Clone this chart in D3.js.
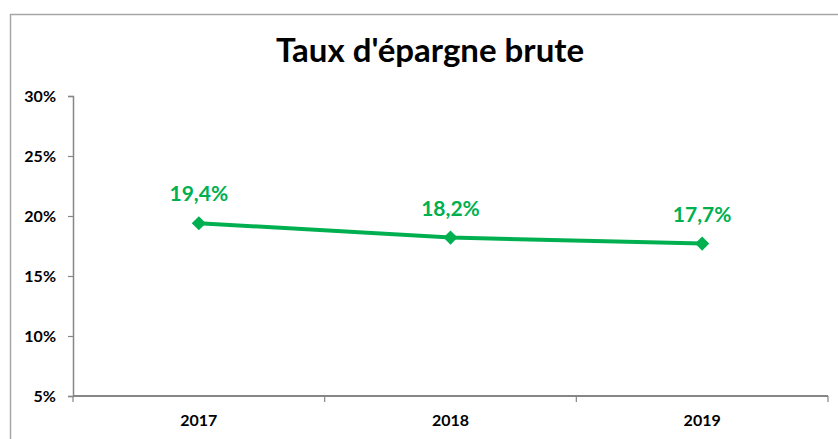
<!DOCTYPE html>
<html><head><meta charset="utf-8">
<script src="https://d3js.org/d3.v7.min.js"></script>
<style>body{margin:0;background:#fff}svg{display:block}</style>
</head><body>
<script>
const title = "Taux d'épargne brute";
const years = ["2017", "2018", "2019"];
const rates = [19.4, 18.2, 17.7];
const rateLabels = ["19,4%", "18,2%", "17,7%"];
const yTicks = [5, 10, 15, 20, 25, 30];

const W = 838, H = 439;
const svg = d3.select("body").append("svg").attr("width", W).attr("height", H);
const font = "Lato, 'Open Sans', sans-serif";
const green = "#00B050";

svg.append("rect").attr("x", 10.5).attr("y", 14.5).attr("width", 900).attr("height", 500)
  .attr("fill", "#fff").attr("stroke", "#a6a6a6").attr("stroke-width", 1.5);

svg.append("text").attr("x", 430).attr("y", 62).attr("text-anchor", "middle")
  .attr("font-family", font).attr("font-weight", 700).attr("font-size", 33)
  .attr("fill", "#000").text(title);

const x = d3.scaleBand().domain(years).range([73, 828]);
const y = d3.scaleLinear().domain([5, 30]).range([396, 96]);

// y axis
const yAxis = svg.append("g").attr("transform", "translate(73,0)")
  .call(d3.axisLeft(y).tickValues(yTicks).tickSize(5).tickPadding(12).tickFormat(d => d + "%"));
yAxis.select(".domain").attr("stroke", "#868686").attr("stroke-width", 1.5);
yAxis.selectAll(".tick line").attr("stroke", "#868686").attr("stroke-width", 1.2);
yAxis.selectAll(".tick text").attr("font-family", font).attr("font-weight", 700)
  .attr("font-size", 16).attr("fill", "#000");

// x axis
const xAxis = svg.append("g").attr("transform", "translate(0,396)")
  .call(d3.axisBottom(x).tickSize(0).tickPadding(19));
xAxis.select(".domain").remove();
xAxis.selectAll(".tick text").attr("font-family", font).attr("font-weight", 700)
  .attr("font-size", 16).attr("fill", "#000");
svg.append("line").attr("x1", 73).attr("x2", 828).attr("y1", 396).attr("y2", 396)
  .attr("stroke", "#868686").attr("stroke-width", 2);
const bounds = years.map(d => x(d)).concat([x.range()[1]]);
svg.selectAll("line.xt").data(bounds).enter().append("line").attr("class", "xt")
  .attr("x1", d => d).attr("x2", d => d).attr("y1", 396).attr("y2", 402)
  .attr("stroke", "#868686").attr("stroke-width", 1.2);

// line
const cx = d => x(d) + x.bandwidth() / 2;
const pts = years.map((d, i) => [cx(d), y(rates[i])]);
svg.append("path").attr("d", d3.line()(pts)).attr("fill", "none")
  .attr("stroke", green).attr("stroke-width", 4);
svg.selectAll("path.mk").data(pts).enter().append("path").attr("class", "mk")
  .attr("d", d3.symbol(d3.symbolSquare, 100)).attr("transform", d => `translate(${d[0]},${d[1]}) rotate(45)`)
  .attr("fill", green);
svg.selectAll("text.lbl").data(pts).enter().append("text").attr("class", "lbl")
  .attr("x", d => d[0]).attr("y", d => d[1] - 22).attr("text-anchor", "middle")
  .attr("font-family", font).attr("font-weight", 700).attr("font-size", 21)
  .attr("fill", green).text((d, i) => rateLabels[i]);
</script>
</body></html>
